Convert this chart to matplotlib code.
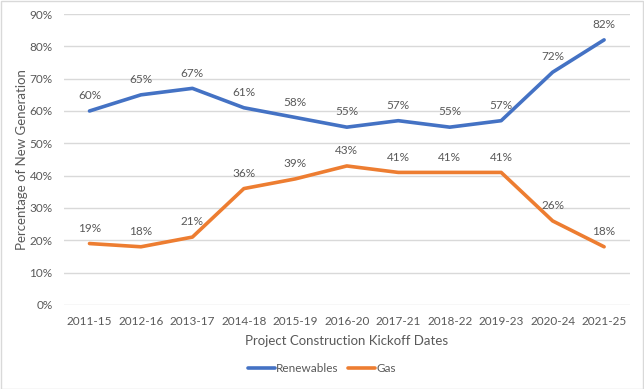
import matplotlib.pyplot as plt
from matplotlib.patches import Rectangle

periods = ["2011-15", "2012-16", "2013-17", "2014-18", "2015-19", "2016-20",
           "2017-21", "2018-22", "2019-23", "2020-24", "2021-25"]
renewables = [60, 65, 67, 61, 58, 55, 57, 55, 57, 72, 82]
gas = [19, 18, 21, 36, 39, 43, 41, 41, 41, 26, 18]

plt.rcParams['font.family'] = ['Lato', 'DejaVu Sans']
text_col = '#595959'

fig = plt.figure(figsize=(6.44, 3.89), dpi=100)
ax = fig.add_axes([0.099, 0.216, 0.879, 0.748])

x = range(len(periods))
ax.plot(x, renewables, color='#4472C4', lw=2.6, label='Renewables', solid_capstyle='round')
ax.plot(x, gas, color='#ED7D31', lw=2.6, label='Gas', solid_capstyle='round')

for i in x:
    ax.annotate(f"{renewables[i]}%", (i, renewables[i]), xytext=(0, 7), textcoords='offset points',
                ha='center', va='bottom', fontsize=8.5, color=text_col)
    ax.annotate(f"{gas[i]}%", (i, gas[i]), xytext=(0, 7), textcoords='offset points',
                ha='center', va='bottom', fontsize=8.5, color=text_col)

ax.set_xlim(-0.5, len(periods) - 0.5)
ax.set_ylim(0, 90)
ax.set_yticks(range(0, 91, 10))
ax.set_yticklabels([f"{v}%" for v in range(0, 91, 10)])
ax.set_xticks(list(x))
ax.set_xticklabels(periods)
ax.tick_params(length=0, labelsize=8.5, colors=text_col, pad=8)
ax.grid(axis='y', color='#D9D9D9', lw=1)
ax.set_axisbelow(True)
for s in ax.spines.values():
    s.set_visible(False)

ax.set_xlabel("Project Construction Kickoff Dates", fontsize=9.5, color=text_col, labelpad=6)
ax.set_ylabel("Percentage of New Generation", fontsize=9.5, color=text_col, labelpad=1)

fig.legend(loc='lower center', bbox_to_anchor=(0.5, 0.01), ncol=2, frameon=False,
           fontsize=8.5, labelcolor=text_col, handlelength=2.3, handletextpad=0.1,
           columnspacing=0.8)

fig.patches.append(Rectangle((0.001, 0.001), 0.997, 0.997, transform=fig.transFigure,
                             fill=False, edgecolor='#D9D9D9', lw=1))

fig.savefig("out.png", dpi=100)
